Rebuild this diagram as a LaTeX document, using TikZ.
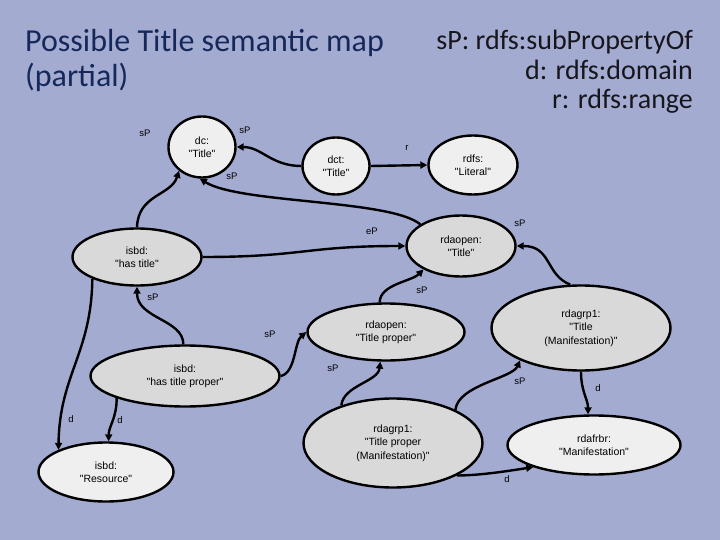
\documentclass[tikz,border=0pt]{standalone}
\usepackage{fontspec}
\setmainfont{Liberation Sans}[Ligatures=TeXOff]
\newfontfamily\calib{Carlito}
\usetikzlibrary{shapes.geometric,arrows.meta}
\definecolor{bg}{RGB}{163,171,208}
\definecolor{fillA}{RGB}{217,217,217}
\definecolor{fillB}{RGB}{239,239,239}
\definecolor{titlec}{RGB}{22,40,90}
\definecolor{legc}{RGB}{22,22,28}
\begin{document}
\begin{tikzpicture}[x=1pt,y=-1pt,
  ell/.style={ellipse, draw=black, line width=2.4pt, inner sep=0pt, align=center,
    font=\fontsize{10.5}{13.3}\selectfont},
  grayell/.style={ell, fill=fillA},
  lightell/.style={ell, fill=fillB},
  conn/.style={line width=2.4pt, -{Triangle[length=7pt,width=7pt]}},
  lab/.style={font=\fontsize{9.5}{11}\selectfont, inner sep=0pt},
  ttl/.style={font=\calib\fontsize{32}{35}\selectfont, text=titlec, inner sep=0pt},
  leg/.style={font=\calib\fontsize{28}{29}\selectfont, text=legc, inner sep=0pt, anchor=base east},
]
\fill[bg] (0,0) rectangle (720,540);
\useasboundingbox (0,0) rectangle (720,540);

% titles
\node[ttl, anchor=base west] (title1) at (25,52) {Possible Title semantic map};
\node[ttl, anchor=base west] (title2) at (25,87) {(partial)};
\node[leg] (leg1) at (693,50) {sP: rdfs:subPropertyOf};
\node[leg] (leg2) at (693,80) {d: rdfs:domain};
\node[leg] (leg3) at (693,109) {r: rdfs:range};

% nodes
\node[lightell, minimum width=67pt, minimum height=61pt] (dc) at (202,147) {dc:\\"Title"};
\node[lightell, minimum width=67pt, minimum height=57pt] (dct) at (336,166) {dct:\\"Title"};
\node[lightell, minimum width=89pt, minimum height=59pt] (lit) at (473,165) {rdfs:\\"Literal"};
\node[grayell, minimum width=129pt, minimum height=57pt] (hastitle) at (137,257) {isbd:\\"has title"};
\node[grayell, minimum width=109pt, minimum height=61pt] (rdaT) at (461,246) {rdaopen:\\"Title"};
\node[grayell, minimum width=157pt, minimum height=57pt] (rdaTP) at (386,332) {rdaopen:\\"Title proper"};
\node[grayell, minimum width=179pt, minimum height=85pt] (grpT) at (581,328) {rdagrp1:\\"Title\\(Manifestation)"};
\node[grayell, minimum width=189pt, minimum height=61pt] (htp) at (185,376) {isbd:\\"has title proper"};
\node[lightell, minimum width=135pt, minimum height=59pt] (res) at (106,472) {isbd:\\"Resource"};
\node[grayell, minimum width=179pt, minimum height=89pt] (grpTP) at (393,443) {rdagrp1:\\"Title proper\\(Manifestation)"};
\node[lightell, minimum width=173pt, minimum height=59pt] (man) at (594,445) {rdafrbr:\\"Manifestation"};

% connectors
\draw[conn] (dct.west) .. controls +(-30,0) and +(25,0) .. (dc.east);
\draw[conn] (rdaT.152) .. controls +(-30,-25) and +(40,25) .. (dc.-94);
\draw[conn] (hastitle.north) .. controls +(1,-33) and +(-8,25) .. (dc.-134);
\draw[conn] (dct.east) -- (lit.west);
\draw[conn] (hastitle.east) .. controls +(100,0) and +(-100,0) .. (rdaT.west);
\draw[conn] (htp.93) .. controls +(0,-25) and +(0,32) .. (hastitle.south);
\draw[conn] (rdaTP.102) .. controls +(0,-18) and +(-12,12) .. (rdaT.212);
\draw[conn] (grpT.104) .. controls +(-25,-10) and +(35,0) .. (rdaT.east);
\draw[conn] (htp.east) .. controls +(15,-3) and +(-12,10) .. (rdaTP.west);
\draw[conn] (grpTP.144) .. controls +(2,-20) and +(-2,20) .. (rdaTP.-101);
\draw[conn] (grpTP.28) .. controls +(3,-25) and +(-8,18) .. (grpT.208);
\draw[conn] (grpT.south) .. controls +(0,20) and +(0,-15) .. (man.101);
\draw[conn] (grpTP.-27) .. controls +(25,0) and +(-20,3) .. (man.200);
\draw[conn] (hastitle.206) .. controls +(-1,75) and +(1,-75) .. (res.155);
\draw[conn] (htp.198) .. controls +(0,20) and +(0,-15) .. (res.85);

% connector labels
\node[lab] (l1) at (145,133) {sP};
\node[lab] (l2) at (245,130) {sP};
\node[lab] (l3) at (232,176) {sP};
\node[lab] (l4) at (407,148) {r};
\node[lab] (l5) at (372,231) {eP};
\node[lab] (l6) at (520,223) {sP};
\node[lab] (l7) at (153,297) {sP};
\node[lab] (l8) at (422,290) {sP};
\node[lab] (l9) at (270,334) {sP};
\node[lab] (l10) at (333,368) {sP};
\node[lab] (l11) at (520,381) {sP};
\node[lab] (l12) at (598,388) {d};
\node[lab] (l13) at (507,479) {d};
\node[lab] (l14) at (71,419) {d};
\node[lab] (l15) at (120,420) {d};
\end{tikzpicture}
\end{document}
